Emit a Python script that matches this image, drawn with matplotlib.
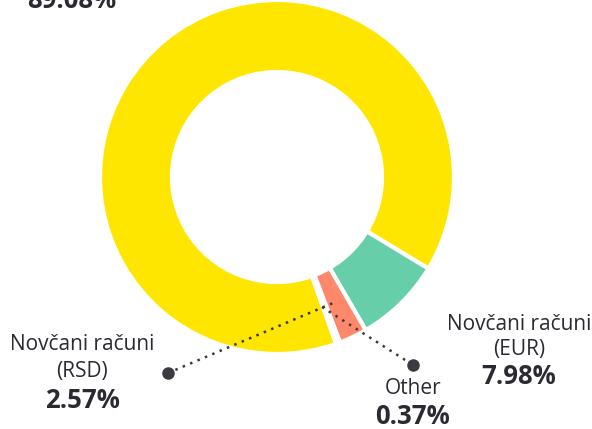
import matplotlib
matplotlib.use('Agg')
import matplotlib.pyplot as plt

plt.rcParams['font.family'] = ['Open Sans', 'DejaVu Sans']

# data
labels = ['Tekući računi', 'Novčani računi\n(EUR)', 'Novčani računi\n(RSD)', 'Other']
values = [89.08, 7.98, 2.57, 0.37]
colors = ['#FFE600', '#66CFAA', '#FF886B', '#FFFFFF']

TXT = '#2A2A32'

fig = plt.figure(figsize=(5.92, 4.29), dpi=100)
ax = fig.add_axes([0, 0, 1, 1])
ax.set_xlim(0, 592)
ax.set_ylim(0, 429)
ax.set_aspect('equal')
ax.axis('off')

cx, cy, r = 277, 429 - 177, 177
wedges, _ = ax.pie(values, colors=colors, radius=r, center=(cx, cy),
                   startangle=289.5, counterclock=False,
                   wedgeprops=dict(width=72, edgecolor='white', linewidth=3))
ax.set_xlim(0, 592)
ax.set_ylim(0, 429)

LS = 15
BS = 18.5

# big slice label (cut off at top, as in the source)
ax.text(72, 429 - 1, '89.08%', ha='center', va='center', fontsize=BS,
        fontweight='bold', color=TXT)

# RSD
ax.text(82, 429 - 344, 'Novčani računi', ha='center', va='center', fontsize=LS, color=TXT)
ax.text(82, 429 - 372, '(RSD)', ha='center', va='center', fontsize=LS, color=TXT)
ax.text(82, 429 - 401, '2.57%', ha='center', va='center', fontsize=BS, fontweight='bold', color=TXT)
ax.plot([168, 333], [429 - 373, 429 - 303], ls=(0, (1, 2.2)), lw=1.8, color='#3a3a40')
ax.plot(168, 429 - 373, 'o', ms=8, color='#3a3a40')

# EUR
ax.text(519, 429 - 325, 'Novčani računi', ha='center', va='center', fontsize=LS, color=TXT)
ax.text(519, 429 - 350, '(EUR)', ha='center', va='center', fontsize=LS, color=TXT)
ax.text(519, 429 - 376, '7.98%', ha='center', va='center', fontsize=BS, fontweight='bold', color=TXT)

# Other
ax.text(413, 429 - 388, 'Other', ha='center', va='center', fontsize=LS, color=TXT)
ax.text(413, 429 - 417, '0.37%', ha='center', va='center', fontsize=BS, fontweight='bold', color=TXT)
ax.plot([322, 413], [429 - 307, 429 - 365], ls=(0, (1, 2.2)), lw=1.8, color='#3a3a40')
ax.plot(413, 429 - 365, 'o', ms=8, color='#3a3a40')

fig.savefig('out.png', dpi=100)
